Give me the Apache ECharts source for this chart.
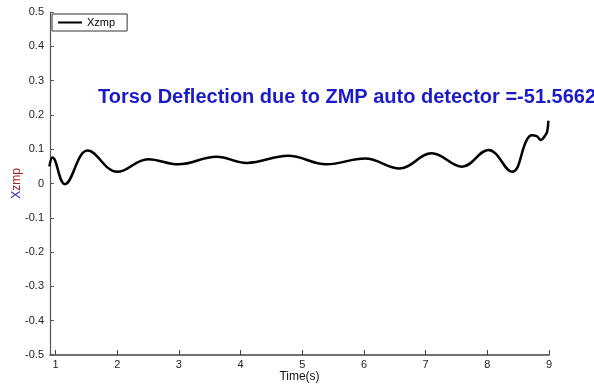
<!DOCTYPE html>
<html><head><meta charset="utf-8">
<script src="https://cdn.jsdelivr.net/npm/echarts@6/dist/echarts.min.js"></script>
<style>html,body{margin:0;padding:0;background:#fff}#c{width:594px;height:385px}</style>
</head><body><div id="c"></div>
<script>
const timeValues = [0.90, 0.95, 1.15, 1.52, 2.00, 2.50, 2.99, 3.61, 4.10, 4.77, 5.39, 6.02, 6.58, 7.10, 7.59, 8.02, 8.40, 8.64, 8.72, 8.80, 8.87, 8.94, 8.97, 8.99];
const xzmpValues = [0.050, 0.076, -0.002, 0.096, 0.034, 0.071, 0.056, 0.078, 0.060, 0.081, 0.056, 0.073, 0.044, 0.088, 0.049, 0.098, 0.034, 0.127, 0.141, 0.138, 0.127, 0.141, 0.151, 0.183];
const xTicks = [1, 2, 3, 4, 5, 6, 7, 8, 9];
const yTicks = [-0.5, -0.4, -0.3, -0.2, -0.1, 0, 0.1, 0.2, 0.3, 0.4, 0.5];
const seriesName = 'Xzmp';
const annotation = 'Torso Deflection due to ZMP auto detector =-51.5662';

const chart = echarts.init(document.getElementById('c'));
const font = 'Liberation Sans, Arial, sans-serif';
chart.setOption({
  animation: false,
  title: {
    text: annotation, left: 93, top: 82,
    textStyle: { color: '#1a1ac8', fontSize: 20, fontWeight: 'bold', fontFamily: font }
  },
  legend: {
    data: [seriesName], left: 52, top: 14, orient: 'vertical',
    backgroundColor: '#fff', borderColor: '#333', borderWidth: 1, borderRadius: 0,
    padding: [3, 12, 3, 6], itemWidth: 24, itemHeight: 10, itemGap: 4,
    icon: 'path://M0,4 L24,4 L24,6 L0,6 Z',
    textStyle: { color: '#000', fontSize: 11, fontFamily: font }
  },
  grid: { left: 50, right: 45, top: 12, bottom: 30, containLabel: false, outerBoundsMode: 'none' },
  xAxis: {
    type: 'value', min: 0.91, max: 9, interval: 1,
    name: 'Time(s)', nameLocation: 'middle', nameGap: 16, nameMoveOverlap: false,
    nameTextStyle: { color: '#111', fontSize: 12, fontFamily: font },
    axisLine: { onZero: false, lineStyle: { color: '#444', width: 1.5 } },
    axisTick: { inside: true, length: 5, lineStyle: { color: '#444' }, customValues: xTicks },
    axisLabel: { color: '#222', fontSize: 11, fontFamily: font, margin: 4, customValues: xTicks },
    splitLine: { show: false }
  },
  yAxis: {
    type: 'value', min: -0.5, max: 0.5, interval: 0.1,
    name: '{x|X}{z|zmp}', nameLocation: 'middle', nameGap: 27, nameRotate: 90, nameMoveOverlap: false,
    nameTextStyle: { fontSize: 12, fontFamily: font, rich: { x: { color: '#2020b0', fontSize: 12, fontFamily: font }, z: { color: '#a02020', fontSize: 12, fontFamily: font } } },
    axisLine: { show: true, onZero: false, lineStyle: { color: '#555', width: 1.2 } },
    axisTick: { show: true, inside: true, length: 4, lineStyle: { color: '#555' }, customValues: yTicks },
    axisLabel: { color: '#222', fontSize: 11, fontFamily: font, margin: 6, customValues: yTicks,
      formatter: v => (Math.abs(v) < 1e-9 ? '0' : String(Math.round(v * 10) / 10)) },
    splitLine: { show: false }
  },
  series: [{
    name: seriesName, type: 'line', smooth: 0.4, showSymbol: false,
    data: timeValues.map((t, i) => [t, xzmpValues[i]]),
    lineStyle: { color: '#000', width: 2.5 }, itemStyle: { color: '#000' }
  }]
});
</script></body></html>
